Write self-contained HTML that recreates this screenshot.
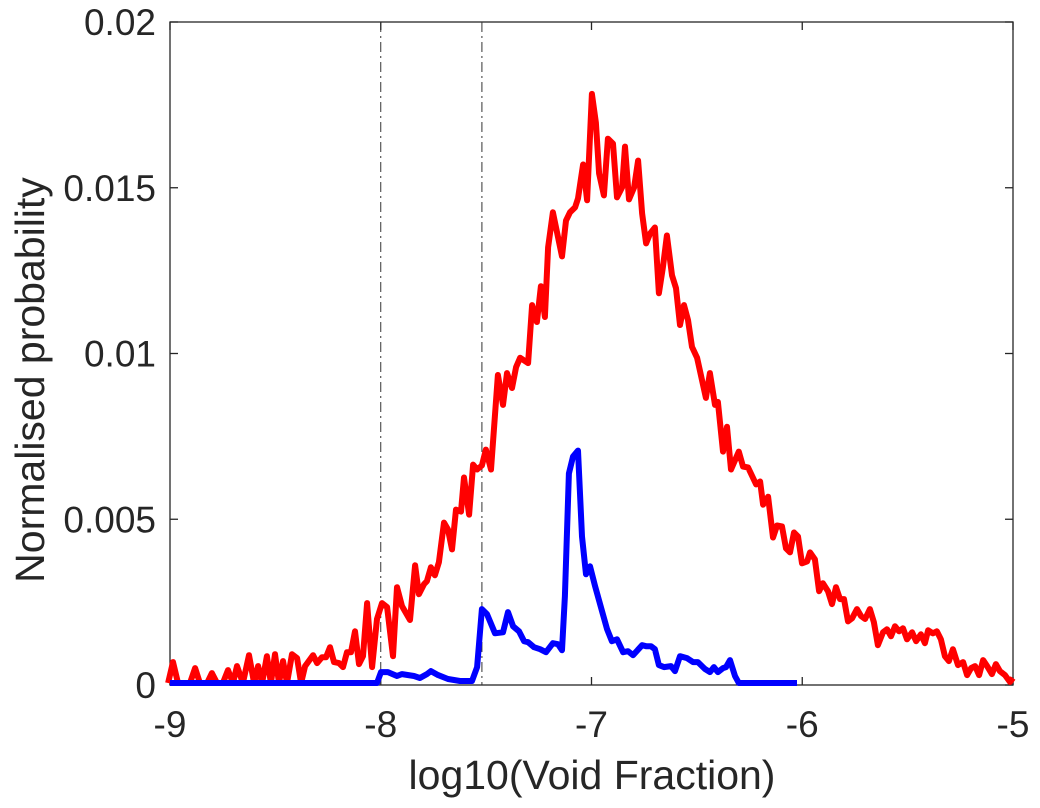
<!DOCTYPE html>
<html><head><meta charset="utf-8">
<style>
html,body{margin:0;padding:0;background:#fff;}
svg{display:block;font-family:"Liberation Sans",Arial,sans-serif;}
</style></head>
<body>
<svg id="chart" width="1040" height="808" viewBox="0 0 1040 808" xmlns="http://www.w3.org/2000/svg">
<g id="axes"></g>
<g id="series"></g>
<text x="592" y="789" font-size="41" fill="#262626" text-anchor="middle">log10(Void Fraction)</text>
<text transform="translate(44,380) rotate(-90)" font-size="41" fill="#262626" text-anchor="middle">Normalised probability</text>
</svg>
<script>
const xTicks = [-9, -8, -7, -6, -5];
const xTickLabels = ["-9", "-8", "-7", "-6", "-5"];
const yTicks = [0, 0.005, 0.01, 0.015, 0.02];
const yTickLabels = ["0", "0.005", "0.01", "0.015", "0.02"];
const refLines = [-8, -7.52];

const redX = [-9.009,-8.986,-8.962,-8.905,-8.881,-8.858,-8.824,-8.801,-8.777,-8.749,-8.725,-8.701,-8.682,-8.654,-8.625,-8.601,-8.582,-8.563,-8.540,-8.521,-8.502,-8.483,-8.464,-8.445,-8.421,-8.397,-8.378,-8.359,-8.321,-8.302,-8.279,-8.260,-8.241,-8.222,-8.198,-8.179,-8.160,-8.141,-8.122,-8.103,-8.084,-8.065,-8.041,-8.018,-7.994,-7.970,-7.942,-7.923,-7.899,-7.861,-7.837,-7.819,-7.795,-7.781,-7.762,-7.743,-7.724,-7.700,-7.681,-7.662,-7.643,-7.619,-7.605,-7.581,-7.562,-7.543,-7.520,-7.501,-7.477,-7.444,-7.420,-7.401,-7.377,-7.358,-7.339,-7.301,-7.282,-7.259,-7.240,-7.221,-7.206,-7.183,-7.140,-7.121,-7.102,-7.078,-7.064,-7.040,-7.021,-6.998,-6.979,-6.964,-6.941,-6.922,-6.898,-6.879,-6.855,-6.841,-6.822,-6.798,-6.779,-6.760,-6.741,-6.722,-6.699,-6.680,-6.661,-6.642,-6.618,-6.599,-6.580,-6.561,-6.542,-6.523,-6.499,-6.457,-6.438,-6.414,-6.400,-6.376,-6.357,-6.338,-6.301,-6.281,-6.257,-6.219,-6.200,-6.186,-6.162,-6.139,-6.120,-6.096,-6.077,-6.058,-6.039,-6.020,-6.001,-5.977,-5.963,-5.940,-5.920,-5.902,-5.878,-5.859,-5.840,-5.821,-5.802,-5.783,-5.764,-5.740,-5.721,-5.702,-5.679,-5.660,-5.641,-5.617,-5.598,-5.579,-5.560,-5.541,-5.522,-5.503,-5.479,-5.460,-5.437,-5.418,-5.403,-5.380,-5.361,-5.342,-5.323,-5.304,-5.285,-5.261,-5.237,-5.218,-5.199,-5.180,-5.161,-5.142,-5.123,-5.100,-5.081,-5.062,-5.038,-5.014,-5.000];
const redY = [0,0.00069,0,0,0.00051,0,0,0.00036,0,0,0.00045,0,0.00057,0,0.00090,0,0.00057,0,0.00087,0,0.00093,0,0.00072,0,0.00093,0.00081,0,0.00057,0.00090,0.00066,0.00084,0.00084,0.00114,0.00069,0.00066,0.00054,0.00099,0.00099,0.00162,0.00063,0.00087,0.00247,0.00054,0.00199,0.00247,0.00235,0.00087,0.00295,0.00238,0.00196,0.00361,0.00274,0.00304,0.00313,0.00355,0.00331,0.00370,0.00490,0.00469,0.00409,0.00529,0.00523,0.00626,0.00514,0.00665,0.00650,0.00662,0.00710,0.00650,0.00935,0.00845,0.00941,0.00896,0.00959,0.00987,0.00971,0.01146,0.01095,0.01203,0.01110,0.01320,0.01426,0.01293,0.01401,0.01426,0.01441,0.01468,0.01570,0.01462,0.01783,0.01696,0.01543,0.01477,0.01648,0.01633,0.01471,0.01501,0.01624,0.01465,0.01501,0.01582,0.01423,0.01332,0.01362,0.01380,0.01182,0.01260,0.01356,0.01236,0.01197,0.01086,0.01146,0.01101,0.01020,0.00987,0.00866,0.00941,0.00845,0.00854,0.00704,0.00779,0.00650,0.00704,0.00659,0.00656,0.00605,0.00614,0.00544,0.00568,0.00445,0.00481,0.00478,0.00412,0.00400,0.00460,0.00448,0.00367,0.00373,0.00400,0.00379,0.00283,0.00307,0.00283,0.00244,0.00295,0.00259,0.00259,0.00192,0.00201,0.00229,0.00208,0.00199,0.00229,0.00189,0.00120,0.00159,0.00168,0.00147,0.00177,0.00162,0.00171,0.00138,0.00159,0.00132,0.00153,0.00126,0.00165,0.00156,0.00162,0.00138,0.00087,0.00072,0.00108,0.00060,0.00069,0.00030,0.00051,0.00057,0.00030,0.00075,0.00057,0.00033,0.00063,0.00042,0.00030,0.00009,0.00021];

const blueX = [-9.0,-8.018,-7.999,-7.966,-7.923,-7.899,-7.842,-7.814,-7.781,-7.762,-7.728,-7.681,-7.624,-7.567,-7.543,-7.520,-7.496,-7.458,-7.420,-7.396,-7.372,-7.344,-7.320,-7.301,-7.273,-7.244,-7.216,-7.183,-7.159,-7.140,-7.126,-7.107,-7.088,-7.064,-7.045,-7.026,-7.007,-6.983,-6.950,-6.926,-6.903,-6.879,-6.850,-6.827,-6.803,-6.760,-6.741,-6.718,-6.699,-6.680,-6.656,-6.623,-6.604,-6.580,-6.547,-6.518,-6.495,-6.461,-6.438,-6.419,-6.400,-6.376,-6.362,-6.343,-6.319,-6.301,-6.025];
const blueY = [0,0,0.00039,0.00039,0.00027,0.00033,0.00027,0.00021,0.00033,0.00042,0.00030,0.00018,0.00012,0.00012,0.00054,0.00229,0.00214,0.00156,0.00159,0.00220,0.00177,0.00162,0.00132,0.00129,0.00114,0.00108,0.00099,0.00126,0.00123,0.00105,0.00268,0.00638,0.00689,0.00707,0.00448,0.00334,0.00358,0.00298,0.00223,0.00168,0.00132,0.00138,0.00099,0.00102,0.00090,0.00120,0.00117,0.00117,0.00108,0.00060,0.00054,0.00057,0.00042,0.00087,0.00081,0.00069,0.00069,0.00048,0.00039,0.00054,0.00039,0.00051,0.00054,0.00075,0.00027,0,0];

const L = 170, R = 1013, T = 22, B = 685;
const xMin = -9, xMax = -5, yMin = 0, yMax = 0.02;
function sx(v){ return L + (v - xMin) / (xMax - xMin) * (R - L); }
function sy(v){ return B - (v - yMin) / (yMax - yMin) * (B - T); }
const NS = "http://www.w3.org/2000/svg";
const axes = document.getElementById('axes');
const series = document.getElementById('series');
function mk(tag, attrs, parent){
  const e = document.createElementNS(NS, tag);
  for (const k in attrs) e.setAttribute(k, attrs[k]);
  parent.appendChild(e);
  return e;
}

const box = mk('rect', {x:L, y:T, width:R-L, height:B-T, fill:'none', stroke:'#262626', 'stroke-width':1.3}, axes);



xTicks.forEach((v, i) => {
  const x = sx(v);
  const t1 = mk('line', {x1:x, y1:B, x2:x, y2:B-8, stroke:'#262626', 'stroke-width':1.3}, axes);
  
  
  const t2 = mk('line', {x1:x, y1:T, x2:x, y2:T+8, stroke:'#262626', 'stroke-width':1.3}, axes);
  
  
  const lb = mk('text', {x:x, y:737, 'font-size':37, fill:'#262626', 'text-anchor':'middle'}, axes);
  
  
  lb.textContent = xTickLabels[i];
});
yTicks.forEach((v, i) => {
  const y = sy(v);
  const t1 = mk('line', {x1:L, y1:y, x2:L+8, y2:y, stroke:'#262626', 'stroke-width':1.3}, axes);
  
  
  const t2 = mk('line', {x1:R, y1:y, x2:R-8, y2:y, stroke:'#262626', 'stroke-width':1.3}, axes);
  
  
  const lb = mk('text', {x:156, y:y+13, 'font-size':37, fill:'#262626', 'text-anchor':'end'}, axes);
  
  
  lb.textContent = yTickLabels[i];
});
refLines.forEach(v => {
  const ln = mk('line', {x1:sx(v), y1:T, x2:sx(v), y2:B, stroke:'#333', 'stroke-width':1, 'stroke-dasharray':'10 4 2 4'}, axes);
  
  
});

function path(xs, ys){
  return xs.map((x, i) => (i ? 'L' : 'M') + sx(x).toFixed(1) + ',' + Math.min(sy(ys[i]), B - 2).toFixed(1)).join(' ');
}
const red = mk('path', {d:path(redX, redY), fill:'none', stroke:'#ff0000', 'stroke-width':6, 'stroke-linejoin':'round'}, series);


const blue = mk('path', {d:path(blueX, blueY), fill:'none', stroke:'#0000ff', 'stroke-width':6, 'stroke-linejoin':'round'}, series);


</script>
</body></html>
